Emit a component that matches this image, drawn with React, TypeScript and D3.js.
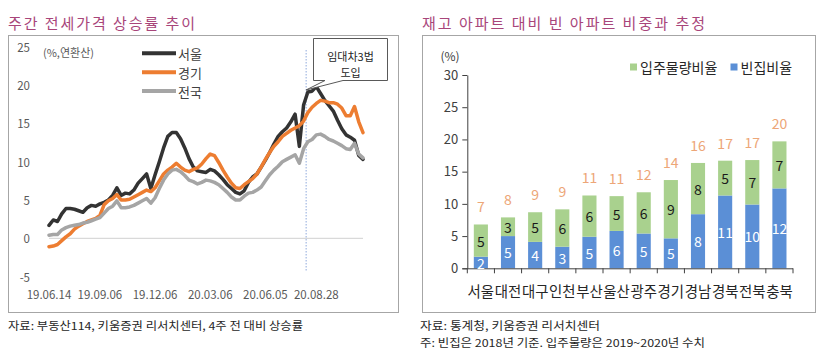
import React, { useEffect, useRef } from "react";
import * as d3 from "d3";

// left chart: weekly jeonse price growth (annualised, %)
const weekLabels = ["19.06.14", "19.09.06", "19.12.06", "20.03.06", "20.06.05", "20.08.28"];
const weekLabelIdx = [0, 12, 25, 38, 51, 63];
const seoul = [
  1.7, 2.4, 2.2, 3.2, 3.9, 3.9, 3.8, 3.6, 3.4, 4.0, 4.3, 4.2, 4.5, 4.7, 5.0, 5.6, 6.6, 5.6, 5.9, 5.8,
  6.3, 7.2, 7.8, 8.4, 6.5, 8.3, 10.0, 11.8, 13.3, 13.8, 13.8, 13.0, 11.8, 10.4, 9.3, 8.8, 8.7, 8.6, 9.0, 8.8,
  8.3, 7.7, 7.0, 6.5, 6.0, 5.8, 6.2, 7.3, 8.0, 8.4, 9.3, 10.2, 11.2, 12.3, 13.3, 13.9, 14.4, 15.2, 16.2, 12.0,
  17.4, 19.1, 19.2, 19.8, 18.9, 18.0, 17.3, 16.6, 15.4, 14.3, 13.5, 13.2, 12.8, 10.8, 10.3,
];
const gyeonggi = [
  -1.1, -1.0, -0.8, -0.3, 0.2, 0.6, 1.2, 1.6, 1.9, 2.2, 2.4, 2.6, 3.0, 4.4, 4.9, 5.2, 5.7, 5.0, 5.0, 5.1,
  5.4, 5.7, 6.0, 6.3, 6.1, 6.6, 7.5, 8.4, 8.9, 9.3, 9.8, 9.3, 8.9, 8.7, 9.0, 9.2, 9.7, 10.4, 11.0, 10.8,
  9.9, 8.9, 8.0, 7.2, 6.6, 6.5, 7.0, 7.4, 7.8, 8.4, 9.3, 10.3, 11.2, 12.0, 12.6, 13.3, 13.7, 14.1, 14.4, 14.7,
  15.3, 16.4, 17.1, 17.6, 18.0, 17.9, 17.7, 17.7, 17.5, 17.0, 16.0, 16.0, 17.2, 15.2, 13.8,
];
const national = [
  0.4, 0.5, 0.5, 1.1, 1.4, 1.6, 1.7, 1.8, 2.0, 2.1, 2.3, 2.5, 2.7, 3.3, 3.9, 4.2, 4.9, 4.0, 4.0, 4.1,
  4.3, 4.6, 4.9, 5.2, 4.6, 5.3, 6.5, 7.6, 8.4, 8.9, 9.0, 8.7, 8.2, 7.6, 7.4, 7.1, 7.3, 7.6, 7.5, 7.3,
  7.0, 6.5, 6.0, 5.4, 5.0, 5.0, 5.5, 5.9, 6.0, 6.3, 6.7, 7.5, 8.3, 8.9, 9.4, 10.0, 10.3, 10.6, 10.9, 9.8,
  11.7, 12.6, 12.9, 13.5, 13.6, 13.3, 12.9, 12.7, 12.4, 12.1, 11.7, 11.6, 12.4, 11.0, 10.5,
];
const seriesNames = ["서울", "경기", "전국"];
const seriesColors = ["#333333", "#ED7D31", "#A5A5A5"];
const leftTicks = [-5, 0, 5, 10, 15, 20, 25];
const lawWeek = 60.6; // 임대차3법 marker

// right chart: vacancy vs. stock
const regions = ["서울", "대전", "대구", "인천", "부산", "울산", "광주", "경기", "경남", "경북", "전북", "충북"];
const vacancy = [1.8, 5.0, 4.1, 3.35, 4.9, 5.8, 5.4, 4.65, 8.4, 11.3, 9.9, 12.4];
const supply = [5.0, 2.9, 4.6, 5.8, 6.4, 5.4, 6.4, 9.05, 7.95, 5.4, 6.9, 7.3];
const rightTicks = [0, 5, 10, 15, 20, 25, 30];

const FONT = "'Noto Sans CJK KR', 'Noto Sans', sans-serif";
const TITLE = "#A8457A";

export default function App() {
  const ref = useRef<SVGSVGElement | null>(null);

  useEffect(() => {
    if (!ref.current) return;
    const svg = d3.select(ref.current);
    svg.selectAll("*").remove();
    svg.style("font-family", FONT);

    svg.append("rect").attr("width", 836).attr("height", 364).attr("fill", "#fff");

    // ---------- left chart ----------
    svg.append("text").attr("x", 8).attr("y", 22).attr("dominant-baseline", "central")
      .attr("font-size", 15).attr("fill", TITLE)
      .attr("textLength", 187).attr("lengthAdjust", "spacing")
      .text("주간 전세가격 상승률 추이");
    svg.append("rect").attr("x", 8.5).attr("y", 35.5).attr("width", 390).attr("height", 277)
      .attr("fill", "none").attr("stroke", "#A6A6A6");

    const x = d3.scaleLinear().domain([0, seoul.length - 1]).range([49, 363]);
    const y = d3.scaleLinear().domain([-5, 25]).range([276.7, 46.7]);
    const gL = svg.append("g");

    gL.selectAll(".ytl").data(leftTicks).enter().append("text")
      .attr("x", 30).attr("y", (d) => y(d)).attr("text-anchor", "end").attr("dominant-baseline", "central")
      .attr("font-size", 11.5).attr("fill", "#595959").text((d) => d);

    gL.append("line").attr("x1", x(0)).attr("x2", x(seoul.length - 1))
      .attr("y1", y(0)).attr("y2", y(0)).attr("stroke", "#D9D9D9").attr("stroke-width", 1.2);

    gL.selectAll(".xtl").data(weekLabels).enter().append("text")
      .attr("x", (_, i) => x(weekLabelIdx[i])).attr("y", 294).attr("text-anchor", "middle")
      .attr("dominant-baseline", "central").attr("font-size", 11.5).attr("fill", "#595959")
      .text((d) => d);

    gL.append("line").attr("x1", x(lawWeek)).attr("x2", x(lawWeek))
      .attr("y1", 50).attr("y2", 272).attr("stroke", "#8FAADC").attr("stroke-width", 1)
      .attr("stroke-dasharray", "1.5,1.5");

    const line = d3.line<number>().x((_, i) => x(i)).y((d) => y(d));
    [seoul, gyeonggi, national].forEach((s, k) => {
      gL.append("path").attr("d", line(s)!).attr("fill", "none")
        .attr("stroke", seriesColors[k]).attr("stroke-width", 3.5)
        .attr("stroke-linejoin", "round").attr("stroke-linecap", "round");
    });

    gL.append("text").attr("x", 43).attr("y", 52).attr("dominant-baseline", "central")
      .attr("font-size", 11).attr("fill", "#595959").text("(%,연환산)");

    seriesNames.forEach((name, k) => {
      const ly = 53.3 + k * 18.9;
      gL.append("line").attr("x1", 142).attr("x2", 176).attr("y1", ly).attr("y2", ly)
        .attr("stroke", seriesColors[k]).attr("stroke-width", 4);
      gL.append("text").attr("x", 178).attr("y", ly).attr("dominant-baseline", "central")
        .attr("font-size", 13).attr("fill", "#404040").text(name);
    });

    // callout
    gL.append("path")
      .attr("d", "M313.5,38.5 H387.5 V80.5 H343 L306,90 L325,80.5 H313.5 Z")
      .attr("fill", "#fff").attr("stroke", "#595959").attr("stroke-width", 1);
    gL.append("text").attr("x", 350.5).attr("y", 56).attr("text-anchor", "middle")
      .attr("dominant-baseline", "central").attr("font-size", 11).attr("fill", "#262626").text("임대차3법");
    gL.append("text").attr("x", 350.5).attr("y", 72).attr("text-anchor", "middle")
      .attr("dominant-baseline", "central").attr("font-size", 11).attr("fill", "#262626").text("도입");

    svg.append("text").attr("x", 8).attr("y", 325).attr("dominant-baseline", "central")
      .attr("font-size", 11).attr("fill", "#262626")
      .attr("textLength", 295).attr("lengthAdjust", "spacingAndGlyphs")
      .text("자료: 부동산114, 키움증권 리서치센터, 4주 전 대비 상승률");

    // ---------- right chart ----------
    svg.append("text").attr("x", 422).attr("y", 22).attr("dominant-baseline", "central")
      .attr("font-size", 15).attr("fill", TITLE)
      .attr("textLength", 283).attr("lengthAdjust", "spacing")
      .text("재고 아파트 대비 빈 아파트 비중과 추정");
    svg.append("rect").attr("x", 422.5).attr("y", 35.5).attr("width", 393).attr("height", 277)
      .attr("fill", "none").attr("stroke", "#A6A6A6");

    const xb = d3.scaleBand().domain(regions).range([467.3, 793]).paddingInner(0.48).paddingOuter(0.24);
    const yb = d3.scaleLinear().domain([0, 30]).range([268.3, 75]);
    const gR = svg.append("g");

    const yAxis = gR.append("g").attr("transform", "translate(467.3,0)")
      .call(d3.axisLeft(yb).tickValues(rightTicks).tickSize(5).tickSizeOuter(0).tickPadding(4));
    yAxis.select(".domain").attr("stroke", "#404040");
    yAxis.selectAll(".tick line").attr("stroke", "#404040");
    yAxis.selectAll(".tick text").attr("font-size", 13).attr("fill", "#404040").attr("font-family", FONT);

    gR.append("text").attr("x", 450).attr("y", 55).attr("text-anchor", "middle")
      .attr("dominant-baseline", "central").attr("font-size", 12).attr("fill", "#404040").text("(%)");

    gR.selectAll(".vb").data(regions).enter().append("rect")
      .attr("x", (d) => xb(d)!).attr("width", xb.bandwidth())
      .attr("y", (_, i) => yb(vacancy[i])).attr("height", (_, i) => yb(0) - yb(vacancy[i]))
      .attr("fill", "#5B8FD6");
    gR.selectAll(".sb").data(regions).enter().append("rect")
      .attr("x", (d) => xb(d)!).attr("width", xb.bandwidth())
      .attr("y", (_, i) => yb(vacancy[i] + supply[i]))
      .attr("height", (_, i) => yb(vacancy[i]) - yb(vacancy[i] + supply[i]))
      .attr("fill", "#A9D18E");

    // x axis with ticks between categories
    gR.append("line").attr("x1", 462.3).attr("x2", 793).attr("y1", yb(0) + 0.5).attr("y2", yb(0) + 0.5)
      .attr("stroke", "#404040");
    const step = xb.step();
    d3.range(regions.length + 1).forEach((k) => {
      const tx = 467.3 + k * step;
      gR.append("line").attr("x1", tx).attr("x2", tx).attr("y1", yb(0)).attr("y2", yb(0) + 5)
        .attr("stroke", "#404040");
    });

    const cx = (d: string) => xb(d)! + xb.bandwidth() / 2;
    gR.selectAll(".cl").data(regions).enter().append("text")
      .attr("x", (d) => cx(d) - step / 2 + 0.3).attr("y", 290).attr("dominant-baseline", "central")
      .attr("font-size", 14.5).attr("fill", "#262626")
      .attr("textLength", step - 0.6).attr("lengthAdjust", "spacingAndGlyphs")
      .text((d) => d);

    gR.selectAll(".vl").data(regions).enter().append("text")
      .attr("x", cx).attr("y", (_, i) => Math.min(yb(vacancy[i] / 2), 263))
      .attr("text-anchor", "middle").attr("dominant-baseline", "central")
      .attr("font-size", 14).attr("fill", "#fff").text((_, i) => Math.round(vacancy[i]));
    gR.selectAll(".sl").data(regions).enter().append("text")
      .attr("x", cx).attr("y", (_, i) => yb(vacancy[i] + supply[i] / 2))
      .attr("text-anchor", "middle").attr("dominant-baseline", "central")
      .attr("font-size", 14).attr("fill", "#1a1a1a").text((_, i) => Math.round(supply[i]));
    gR.selectAll(".tl").data(regions).enter().append("text")
      .attr("x", cx).attr("y", (_, i) => yb(vacancy[i] + supply[i]) - 18)
      .attr("text-anchor", "middle").attr("dominant-baseline", "central")
      .attr("font-size", 14).attr("fill", "#EDA677").text((_, i) => Math.round(vacancy[i] + supply[i]));

    // legend
    const legend = [
      { label: "입주물량비율", color: "#A9D18E", x: 630 },
      { label: "빈집비율", color: "#5B8FD6", x: 730.5 },
    ];
    legend.forEach((l) => {
      gR.append("rect").attr("x", l.x).attr("y", 63.5).attr("width", 7).attr("height", 7).attr("fill", l.color);
      gR.append("text").attr("x", l.x + 10).attr("y", 67.3).attr("dominant-baseline", "central")
        .attr("font-size", 14).attr("fill", "#262626").text(l.label);
    });

    svg.append("text").attr("x", 420).attr("y", 325).attr("dominant-baseline", "central")
      .attr("font-size", 11).attr("fill", "#262626")
      .attr("textLength", 180).attr("lengthAdjust", "spacingAndGlyphs")
      .text("자료: 통계청, 키움증권 리서치센터");
    svg.append("text").attr("x", 420).attr("y", 342).attr("dominant-baseline", "central")
      .attr("font-size", 11).attr("fill", "#262626")
      .attr("textLength", 285).attr("lengthAdjust", "spacingAndGlyphs")
      .text("주: 빈집은 2018년 기준. 입주물량은 2019~2020년 수치");
  }, []);

  return <svg ref={ref} width={836} height={364} style={{ position: "absolute", left: 0, top: 0 }} />;
}
